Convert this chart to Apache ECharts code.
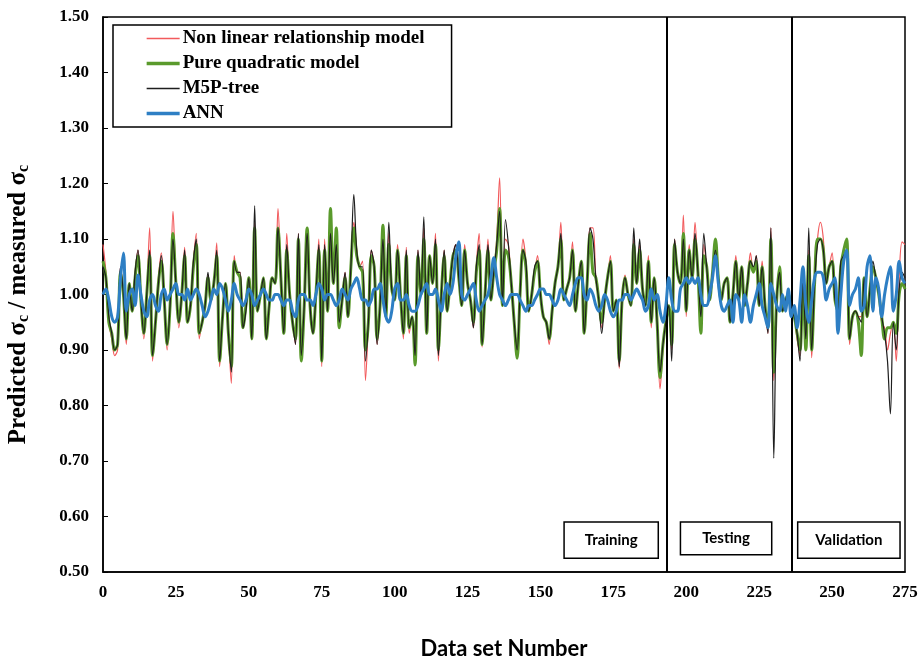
<!DOCTYPE html>
<html>
<head>
<meta charset="utf-8">
<script src="https://cdn.jsdelivr.net/npm/echarts@6/dist/echarts.min.js"></script>
<style>html,body{margin:0;padding:0;background:#fff}#c{width:922px;height:664px}</style>
</head>
<body>
<div id="c"></div>
<script>
const seriesNames = ['Non linear relationship model', 'Pure quadratic model', 'M5P-tree', 'ANN'];
const xTicks = [0, 25, 50, 75, 100, 125, 150, 175, 200, 225, 250, 275];
const yTicks = [0.5, 0.6, 0.7, 0.8, 0.9, 1.0, 1.1, 1.2, 1.3, 1.4, 1.5];
const splitPoints = [193.3, 236.3];
const phaseLabels = ['Training', 'Testing', 'Validation'];

const nonLinear = [
1.09,1.04,0.95,0.92,0.89,0.90,1.05,1.00,0.91,1.02,
0.97,1.04,1.08,0.99,0.92,1.00,1.12,0.88,0.95,1.03,
1.075,0.99,0.90,0.98,1.15,1.02,0.94,1.00,1.085,0.95,
0.98,1.06,1.11,0.92,0.95,0.98,1.035,0.99,1.02,1.093,
0.87,0.96,1.02,0.93,0.84,1.07,1.04,1.04,0.94,0.98,
1.03,0.92,1.13,0.97,1.00,1.03,0.92,0.98,1.03,1.02,
1.155,1.03,0.93,1.11,1.00,0.95,0.91,1.11,0.88,0.98,
1.12,0.98,0.93,1.00,1.10,0.87,1.10,0.97,1.10,1.02,
1.08,0.945,0.99,1.04,0.96,1.05,1.13,1.08,1.05,1.06,
0.845,0.95,1.08,1.05,0.91,0.98,1.10,0.96,1.11,1.01,
0.99,1.09,1.00,0.92,1.085,0.93,0.96,0.88,1.08,1.00,
1.12,0.93,1.07,1.02,1.11,0.88,1.00,1.08,0.97,1.02,
1.07,1.09,1.03,0.98,1.09,1.02,0.99,0.94,1.05,1.11,
0.905,1.00,1.10,0.99,1.04,1.10,1.21,0.98,1.10,1.09,
1.02,0.945,0.90,1.00,1.10,1.06,0.97,1.00,1.04,1.07,
1.00,0.96,0.95,0.91,0.97,1.02,1.05,1.13,0.99,1.01,
1.03,1.095,0.97,1.02,1.06,0.93,1.02,1.12,1.12,1.03,
0.99,0.94,0.99,1.03,1.07,0.97,0.99,0.867,0.99,1.035,
1.00,0.98,1.10,1.02,1.09,1.01,0.98,1.07,0.94,1.03,
0.95,0.83,0.90,0.95,0.98,0.90,1.10,1.04,1.02,1.143,
0.96,1.09,1.03,1.13,1.04,0.97,1.09,1.05,0.99,1.04,
1.09,1.03,0.99,1.02,1.03,0.95,1.00,1.07,0.99,1.05,
0.98,1.02,1.075,1.04,1.07,0.98,1.06,0.98,0.93,1.12,
0.845,0.99,1.04,0.97,0.99,1.00,0.97,0.96,0.92,0.89,
1.03,0.92,1.08,0.886,1.02,1.10,1.13,1.10,1.02,1.05,
1.075,0.99,0.97,1.05,1.08,1.09,0.91,0.96,0.97,0.96,
0.96,1.03,0.96,1.01,1.05,1.03,1.00,0.95,0.94,0.90,
0.93,0.95,0.88,1.03,1.095,1.09
];

const pureQuadratic = [
1.06,1.03,0.95,0.93,0.90,0.91,1.04,1.00,0.92,1.02,
0.97,1.03,1.07,0.99,0.93,1.00,1.07,0.89,0.95,1.02,
1.06,0.99,0.91,0.98,1.11,1.02,0.95,1.00,1.07,0.95,
0.98,1.05,1.09,0.93,0.95,0.98,1.03,0.99,1.02,1.07,
0.88,0.96,1.02,0.93,0.87,1.06,1.04,1.03,0.94,0.98,
1.03,0.92,1.12,0.97,1.00,1.03,0.92,0.98,1.03,1.02,
1.12,1.03,0.93,1.08,1.00,0.95,0.92,1.10,0.88,0.98,
1.12,0.98,0.93,1.00,1.08,0.88,1.08,0.97,1.155,1.02,
1.12,0.94,0.99,1.03,0.96,1.05,1.12,1.07,1.05,1.04,
0.90,0.95,1.07,1.05,0.92,0.98,1.125,0.96,1.09,1.01,
0.99,1.08,1.00,0.93,1.07,0.94,0.96,0.873,1.07,1.00,
1.10,0.93,1.07,1.02,1.09,0.90,1.00,1.07,0.97,1.02,
1.07,1.08,1.03,0.98,1.08,1.02,0.99,0.95,1.04,1.08,
0.91,1.00,1.08,0.99,1.04,1.08,1.155,0.98,1.08,1.07,
1.02,0.95,0.885,1.00,1.08,1.05,0.97,1.00,1.04,1.06,
1.00,0.96,0.95,0.92,0.97,1.02,1.05,1.10,0.99,1.01,
1.03,1.08,0.97,1.02,1.06,0.93,1.02,1.11,1.04,1.03,
0.99,0.95,0.99,1.03,1.06,0.97,0.99,0.88,0.99,1.03,
1.00,0.98,1.09,1.02,1.08,1.01,0.98,1.06,0.95,1.03,
0.95,0.85,0.91,0.95,0.98,0.91,1.09,1.04,1.02,1.11,
0.97,1.08,1.03,1.10,1.04,0.93,1.07,1.05,0.99,1.04,
1.10,1.03,0.99,1.02,1.03,0.95,1.00,1.06,0.99,1.05,
0.98,1.02,1.06,1.04,1.06,0.98,1.05,0.98,0.94,1.10,
0.86,0.99,1.05,0.97,0.99,1.00,0.97,0.96,0.93,0.90,
1.03,0.90,1.07,0.90,1.02,1.10,1.10,1.08,1.02,1.05,
1.06,0.99,0.97,1.05,1.08,1.10,0.92,0.96,0.97,0.95,
0.89,1.03,0.96,1.01,1.05,1.03,1.00,0.96,0.92,0.94,
0.94,0.95,0.93,1.00,1.02,1.01
];

const m5pTree = [
1.05,1.03,0.96,0.93,0.90,0.91,1.05,1.00,0.92,1.02,
0.97,1.04,1.08,0.99,0.93,1.00,1.08,0.89,0.95,1.02,
1.07,0.99,0.91,0.98,1.10,1.02,0.95,1.00,1.08,0.95,
0.98,1.06,1.10,0.93,0.95,0.98,1.04,0.99,1.02,1.08,
0.88,0.96,1.02,0.93,0.86,1.06,1.04,1.04,0.94,0.97,
1.03,0.92,1.16,0.97,1.00,1.03,0.92,0.98,1.03,1.02,
1.12,1.03,0.93,1.09,1.00,0.95,0.91,1.11,0.89,0.98,
1.11,0.98,0.93,1.00,1.09,0.88,1.09,0.97,1.11,1.02,
1.09,0.95,0.99,1.04,0.96,1.05,1.18,1.08,1.05,1.05,
0.88,0.95,1.08,1.05,0.91,0.98,1.10,0.96,1.13,1.01,
0.99,1.08,1.00,0.93,1.08,0.94,0.96,0.89,1.08,1.00,
1.14,0.93,1.07,1.02,1.10,0.89,1.00,1.08,0.97,1.02,
1.07,1.09,1.03,0.98,1.08,1.02,0.99,0.94,1.05,1.09,
0.91,1.00,1.09,0.99,1.04,1.09,1.15,0.98,1.135,1.09,
1.02,0.95,0.90,1.00,1.08,1.06,0.97,1.00,1.05,1.06,
1.00,0.96,0.95,0.92,0.97,1.02,1.05,1.11,0.99,1.01,
1.03,1.08,0.97,1.02,1.06,0.93,1.02,1.12,1.10,1.03,
0.99,0.93,0.99,1.03,1.06,0.97,0.99,0.87,0.99,1.03,
1.00,0.98,1.12,1.02,1.10,1.01,0.98,1.06,0.95,1.03,
0.95,0.86,0.91,0.95,0.98,0.88,1.10,1.04,1.02,1.10,
0.97,1.08,1.03,1.11,1.04,0.96,1.11,1.05,0.99,1.04,
1.08,1.03,0.99,1.02,1.03,0.95,1.00,1.06,0.99,1.05,
0.98,1.02,1.06,1.05,1.07,0.98,1.05,0.98,0.93,1.12,
0.705,0.99,1.04,0.97,0.99,1.00,0.97,0.96,0.93,0.88,
1.03,0.92,1.12,0.90,1.02,1.09,1.10,1.08,1.02,1.05,
1.06,0.99,0.97,1.06,1.07,1.08,0.92,0.96,0.97,0.96,
0.95,1.03,0.96,1.01,1.06,1.03,1.00,0.96,0.93,0.88,
0.785,0.95,0.90,1.01,1.04,1.03
];

const ann = [
1.00,1.01,0.99,0.96,0.95,0.96,1.03,1.075,0.97,1.00,
1.01,0.98,1.035,1.00,0.97,0.96,0.99,1.00,0.98,0.97,
1.00,1.01,0.99,1.00,1.01,1.02,1.00,1.00,0.99,1.01,
0.99,1.00,1.01,1.00,0.98,0.96,0.97,0.99,1.01,1.00,
1.02,1.01,0.99,0.97,0.99,1.02,1.00,0.99,0.98,0.99,
1.01,1.00,0.98,0.99,1.00,1.01,1.00,0.99,0.99,1.00,
1.00,0.99,0.98,0.99,0.99,0.97,0.96,0.99,1.00,1.00,
0.99,0.99,0.98,1.00,1.02,1.01,0.99,1.00,1.00,0.99,
0.98,0.99,1.01,1.00,0.99,1.01,1.02,1.03,1.01,0.99,
0.99,0.98,0.99,1.01,1.01,1.02,0.99,0.96,0.95,0.97,
1.01,1.02,0.99,0.99,1.00,0.98,0.97,0.97,0.98,1.00,
1.01,1.02,1.00,1.00,1.01,0.99,0.97,1.00,1.02,1.00,
1.02,1.07,1.095,1.00,0.99,1.00,1.01,1.02,0.99,0.97,
0.98,0.99,1.00,1.03,1.066,1.03,1.00,0.99,0.98,0.99,
1.00,1.00,1.00,0.99,0.98,0.97,0.98,0.98,0.99,1.00,
1.01,1.01,1.00,1.00,0.99,0.98,0.99,1.01,1.00,0.99,
0.98,1.00,1.02,1.03,1.03,1.00,0.99,1.01,1.00,0.98,
0.97,0.98,1.00,0.99,0.97,0.96,0.97,0.99,0.99,1.00,
1.00,0.99,1.00,1.01,1.00,0.99,0.97,0.98,1.01,0.99,
1.00,0.97,0.95,0.98,1.03,0.99,0.97,0.97,1.01,1.02,
1.03,1.02,1.03,1.02,1.03,1.00,0.98,0.98,1.00,1.03,
1.07,1.02,0.98,0.97,0.98,0.99,0.95,1.00,0.99,0.95,
1.00,0.98,0.95,0.98,1.00,1.02,0.98,0.96,0.94,1.02,
1.00,0.98,0.97,1.00,0.97,1.01,0.96,0.98,0.94,0.99,
1.05,0.98,0.95,0.99,1.03,1.04,1.04,1.03,0.99,1.01,
1.02,1.03,0.93,1.00,1.06,1.08,0.98,1.00,1.01,1.03,
0.97,0.98,1.05,1.07,0.97,1.03,1.01,0.96,1.00,1.03,
1.05,0.97,1.00,1.06,1.03,1.02
];

// annotation boxes (data coordinates)
const phaseBoxes = [
  [[158.1, 0.590], [190.4, 0.525]],
  [[198.0, 0.590], [229.3, 0.531]],
  [[238.2, 0.590], [273.3, 0.525]]
];

const toXY = arr => arr.map((v, i) => [i, v]);
const serif = 'Liberation Serif';
const colors = ['#f25a5c', '#5a9a2c', '#1e1e1e', '#2e7fc4'];
const widths = [1.2, 3, 1.2, 3];
const zs = [2, 3, 4, 5];
const values = [nonLinear, pureQuadratic, m5pTree, ann];

const chart = echarts.init(document.getElementById('c'), null, {renderer: 'canvas'});
const series = seriesNames.map((n, k) => ({
  name: n, type: 'line', data: toXY(values[k]), smooth: 0.35, symbol: 'none',
  lineStyle: {color: colors[k], width: widths[k]}, itemStyle: {color: colors[k]}, z: zs[k]
}));
series[0].markLine = {silent: true, symbol: 'none', label: {show: false},
  lineStyle: {color: '#000', width: 2, type: 'solid'},
  data: splitPoints.map(p => ({xAxis: p}))};
series[0].markArea = {silent: true,
  itemStyle: {color: '#fff', borderColor: '#000', borderWidth: 1.5},
  label: {show: true, position: 'inside', fontFamily: 'Lato', fontWeight: 'bold', fontSize: 15, color: '#000'},
  data: phaseBoxes.map((b, k) => [{name: phaseLabels[k], coord: b[0]}, {coord: b[1]}])};

const option = {
  animation: false,
  backgroundColor: '#fff',
  grid: {left: 103, right: 17, top: 17, bottom: 92, show: true, borderColor: '#000', borderWidth: 1.5,
    backgroundColor: 'transparent', outerBoundsMode: 'none', containLabel: false},
  legend: {
    data: seriesNames.map((n, k) => ({name: n, lineStyle: {width: widths[k] + 0.3, color: colors[k]}})),
    orient: 'vertical',
    left: 113, top: 25,
    padding: [4, 27, 4, 32],
    itemWidth: 33, itemHeight: 14, itemGap: 6,
    backgroundColor: '#fff',
    borderColor: '#000', borderWidth: 1.5, borderRadius: 0,
    itemStyle: {opacity: 0},
    textStyle: {fontFamily: serif, fontWeight: 'bold', fontSize: 19, color: '#000', padding: [0, 0, 0, -2]}
  },
  xAxis: {
    type: 'value', min: xTicks[0], max: xTicks[xTicks.length - 1], interval: 25,
    name: 'Data set Number', nameLocation: 'middle', nameGap: 66,
    nameTextStyle: {fontFamily: 'Lato', fontWeight: 'bold', fontSize: 22, color: '#000'},
    axisLine: {lineStyle: {color: '#000', width: 1.5}},
    axisTick: {show: false},
    axisLabel: {fontFamily: serif, fontWeight: 'bold', fontSize: 17, color: '#000', margin: 12},
    splitLine: {show: false}
  },
  yAxis: {
    type: 'value', min: yTicks[0], max: yTicks[yTicks.length - 1], interval: 0.1,
    name: 'Predicted σ{s|c} / measured σ{s|c}', nameLocation: 'middle', nameGap: 71,
    nameTextStyle: {fontFamily: serif, fontWeight: 'bold', fontSize: 25, color: '#000', padding: [0, 20, 0, 0],
      rich: {s: {fontFamily: serif, fontWeight: 'bold', fontSize: 16, color: '#000', verticalAlign: 'bottom', padding: [10, 0, 0, 0]}}},
    axisLine: {lineStyle: {color: '#000', width: 1.5}},
    axisTick: {show: true, inside: true, length: 5, lineStyle: {color: '#000'}},
    axisLabel: {fontFamily: serif, fontWeight: 'bold', fontSize: 17, color: '#000', margin: 14, formatter: v => v.toFixed(2)},
    splitLine: {show: false}
  },
  series: series
};
chart.setOption(option);
</script>
</body>
</html>
